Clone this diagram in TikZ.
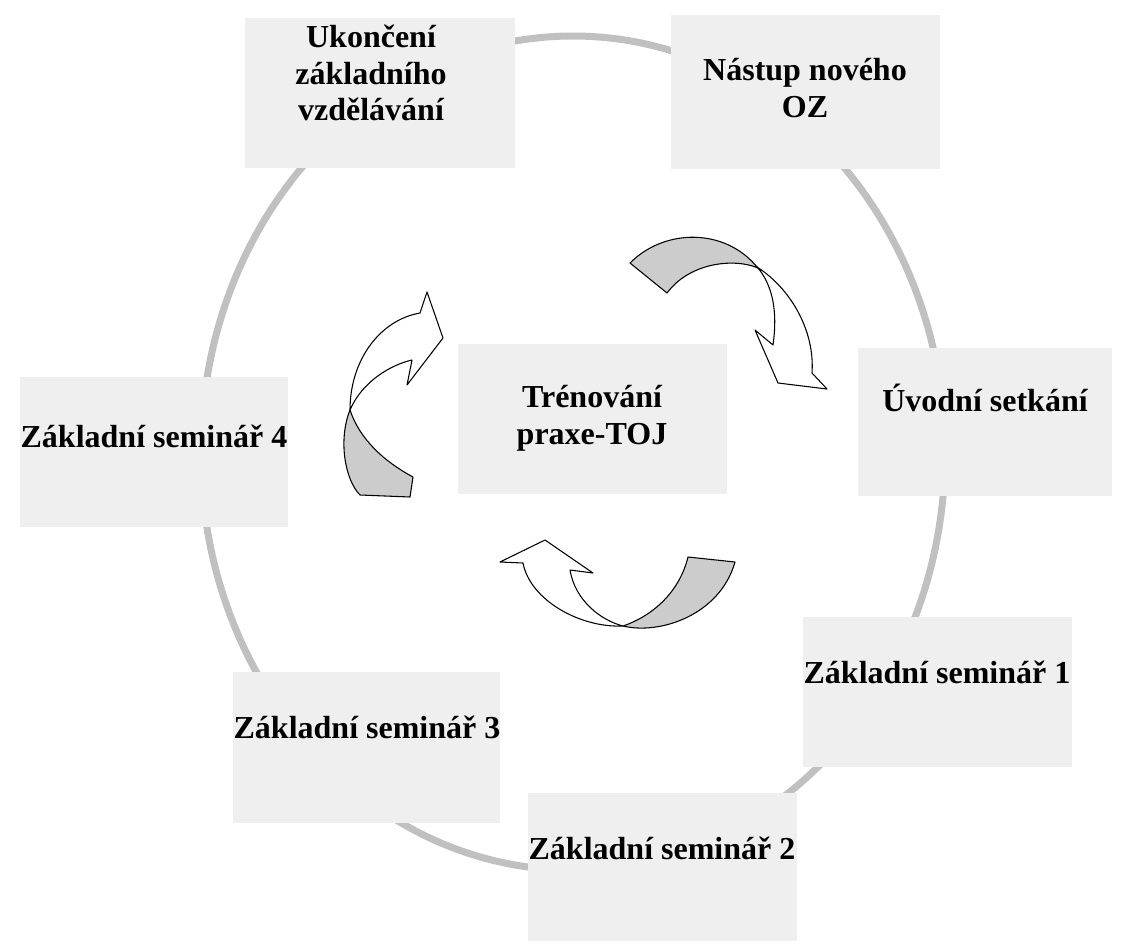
\documentclass[tikz,border=0pt]{standalone}
\usepackage{fontspec}
\setmainfont{Liberation Serif}
\definecolor{boxgray}{HTML}{EFEFEF}
\definecolor{ringgray}{HTML}{C0C0C0}
\definecolor{arrgray}{HTML}{CCCCCC}
\begin{document}
\begin{tikzpicture}[x=0.75pt,y=-0.75pt,
  box/.style={fill=boxgray, inner sep=0pt, outer sep=0pt},
  lbl/.style={font=\fontsize{24pt}{27.4pt}\selectfont\bfseries, inner sep=0pt, align=center},
  ring/.style={draw=ringgray, line width=5.25pt},
  arrw/.style={draw=black, line width=0.8pt, fill=white, line join=round},
  arrg/.style={arrw, fill=arrgray}]
\useasboundingbox (0,0) rectangle (1124,943);
\fill[white] (0,0) rectangle (1124,943);
% ring
\draw[ring] (573,453) ellipse [x radius=372, y radius=417];
% boxes
\node[box, minimum width=202.5pt, minimum height=112.5pt] (buk) at (380,93) {};
\node[box, minimum width=201.75pt, minimum height=115.5pt] (bna) at (805.5,92) {};
\node[box, minimum width=190.5pt, minimum height=111pt] (buv) at (985,422) {};
\node[box, minimum width=201.75pt, minimum height=112.5pt] (btr) at (592.5,419) {};
\node[box, minimum width=201pt, minimum height=112.5pt] (bs4) at (154,452) {};
\node[box, minimum width=201.75pt, minimum height=112.5pt] (bs1) at (937.5,692) {};
\node[box, minimum width=200.25pt, minimum height=113.25pt] (bs3) at (366.5,747.5) {};
\node[box, minimum width=201.75pt, minimum height=111pt] (bs2) at (662.5,867) {};
% labels
\node[lbl, anchor=north] (tuk) at (371,25) {Ukončení\\základního\\vzdělávání};
\node[lbl, anchor=north] (tna) at (805,58) {Nástup nového\\OZ};
\node[lbl, anchor=base] (tuv) at (985,411) {Úvodní setkání};
\node[lbl, anchor=north] (ttr) at (592,385) {Trénování\\praxe-TOJ};
\node[lbl, anchor=base] (ts4) at (154,447) {Základní seminář 4};
\node[lbl, anchor=base] (ts1) at (937,683) {Základní seminář 1};
\node[lbl, anchor=base] (ts3) at (367,738) {Základní seminář 3};
\node[lbl, anchor=base] (ts2) at (662,859) {Základní seminář 2};
% arrow 1 (top right)
\draw[arrg] (630,263) .. controls (665,228) and (725,228) .. (757,267)
  -- (758,268) .. controls (735,258) and (690,262) .. (667,293) -- cycle;
\draw[arrw] (757,267) .. controls (790,288) and (815,330) .. (812,373)
  -- (827,389) -- (778,383) -- (755,330) -- (773,345)
  .. controls (778,310) and (772,285) .. (758,268) -- cycle;
% arrow 2 (left)
\draw[arrg] (350,410) .. controls (338,440) and (345,480) .. (360,495)
  -- (410,497) -- (413,477) .. controls (385,462) and (360,440) .. (350,410) -- cycle;
\draw[arrw] (350,410) .. controls (350,360) and (380,320) .. (420,313)
  -- (427,292) -- (443,338) -- (407,385) -- (412,360)
  .. controls (390,365) and (362,382) .. (350,410) -- cycle;
% arrow 3 (bottom)
\draw[arrg] (623,626) .. controls (660,635) and (720,615) .. (735,562)
  -- (688,557) .. controls (680,590) and (655,615) .. (623,626) -- cycle;
\draw[arrw] (500,562) -- (545,540) -- (593,573) -- (570,570)
  .. controls (575,600) and (600,620) .. (623,626)
  .. controls (580,628) and (530,600) .. (523,563) -- cycle;
\end{tikzpicture}
\end{document}
